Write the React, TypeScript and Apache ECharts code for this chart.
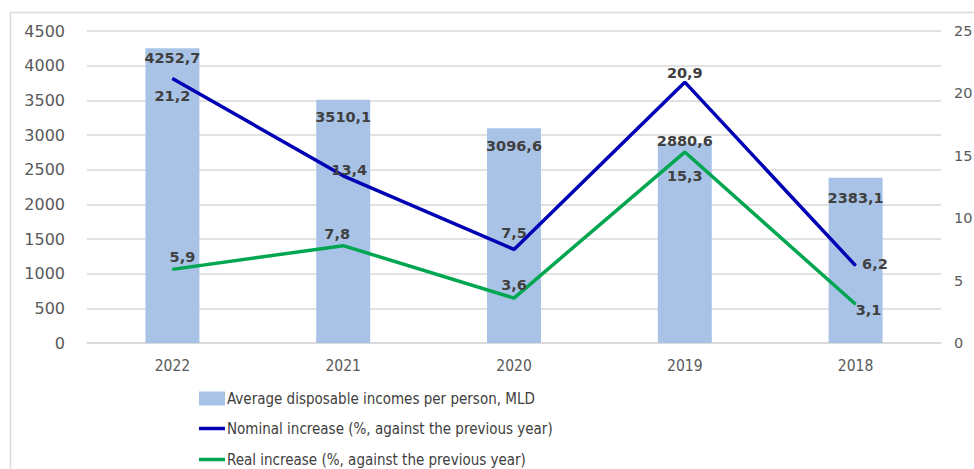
import React, { useEffect, useRef } from "react";
import * as echarts from "echarts";

const years = ["2022", "2021", "2020", "2019", "2018"];
const incomes = [4252.7, 3510.1, 3096.6, 2880.6, 2383.1];
const nominal = [21.2, 13.4, 7.5, 20.9, 6.2];
const real = [5.9, 7.8, 3.6, 15.3, 3.1];

const barName = "Average disposable incomes per person, MLD";
const nominalName = "Nominal increase (%, against the previous year)";
const realName = "Real increase (%, against the previous year)";

const fmt = (v: number) => v.toFixed(1).replace(".", ",");

const narrowFont = "DejaVu Sans Condensed, Liberation Sans Narrow, Liberation Sans";

const labelFont = {
  fontFamily: "DejaVu Sans",
  fontWeight: "bold" as const,
  fontSize: 14.5,
  color: "#404040",
};

// label placement styles (not data)
const barLabelStyle: any[] = [
  { position: "insideTop", distance: 2 },
  { position: "insideTop", distance: 10 },
  { position: "insideTop", distance: 10 },
  { position: "top", distance: -5 },
  { position: "insideTop", distance: 13 },
];
const nominalLabelStyle: any[] = [
  { position: "bottom", distance: 10 },
  { position: "top", distance: 2, offset: [6, 4] },
  { position: "top", distance: 8 },
  { position: "top", distance: 1 },
  { position: "right", distance: 6, offset: [0, -2] },
];
const realLabelStyle: any[] = [
  { position: "top", distance: 4, offset: [10, 0] },
  { position: "top", distance: 4, offset: [-6, 0] },
  { position: "top", distance: 5 },
  { position: "bottom", distance: 16 },
  { position: "inside", offset: [13, 6] },
];

const lineIcon = "path://M0 0H26V3.5H0Z";

const legendBase = {
  orient: "vertical",
  left: 199,
  padding: 0,
  itemWidth: 26,
  itemHeight: 14,
  itemGap: 0,
  textStyle: {
    fontFamily: narrowFont,
    fontSize: 15,
    color: "#404040",
    padding: [0, 0, 0, -3],
  },
};

export default function App() {
  const ref = useRef<HTMLDivElement>(null);
  useEffect(() => {
    document.body.style.margin = "0";
    const chart = echarts.init(ref.current!, null, { renderer: "svg" });
    const option: any = {
      animation: false,
      backgroundColor: "#ffffff",
      graphic: [
        {
          type: "rect",
          shape: { x: 10.5, y: 12.5, width: 1000, height: 500 },
          style: { fill: "none", stroke: "#dcdcdc", lineWidth: 1.5 },
          silent: true,
          z: -1,
        },
      ],
      grid: {
        left: 87,
        right: 33,
        top: 31,
        bottom: 126,
        containLabel: false,
        outerBoundsMode: "none",
      },
      legend: [
        { ...legendBase, top: 391, data: [{ name: barName, icon: "rect" }] },
        { ...legendBase, top: 421, data: [{ name: nominalName, icon: lineIcon }] },
        { ...legendBase, top: 452, data: [{ name: realName, icon: lineIcon }] },
      ],
      xAxis: {
        type: "category",
        data: years,
        axisLine: { lineStyle: { color: "#d9d9d9", width: 1.5 } },
        axisTick: { show: false },
        axisLabel: {
          fontFamily: narrowFont,
          fontSize: 15.5,
          color: "#595959",
          margin: 15,
        },
      },
      yAxis: [
        {
          type: "value",
          min: 0,
          max: 4500,
          interval: 500,
          axisLine: { show: false },
          axisTick: { show: false },
          splitLine: { lineStyle: { color: "#d9d9d9", width: 1.5 } },
          axisLabel: {
            fontFamily: "DejaVu Sans",
            fontSize: 16,
            color: "#595959",
            margin: 22,
            formatter: (v: number) => String(v),
          },
        },
        {
          type: "value",
          min: 0,
          max: 25,
          interval: 5,
          axisLine: { show: false },
          axisTick: { show: false },
          splitLine: { show: false },
          axisLabel: {
            fontFamily: "DejaVu Sans",
            fontSize: 14.5,
            color: "#595959",
            margin: 13,
            formatter: (v: number) => String(v),
          },
        },
      ],
      series: [
        {
          name: barName,
          type: "bar",
          barWidth: 54,
          itemStyle: { color: "#a9c3e6" },
          data: incomes.map((v, i) => ({
            value: v,
            label: { show: true, ...barLabelStyle[i] },
          })),
          label: { ...labelFont, formatter: (p: any) => fmt(p.value) },
        },
        {
          name: nominalName,
          type: "line",
          yAxisIndex: 1,
          symbol: "circle",
          symbolSize: 1,
          lineStyle: { color: "#0000b4", width: 3.5 },
          itemStyle: { color: "#0000b4" },
          data: nominal.map((v, i) => ({
            value: v,
            label: { show: true, ...nominalLabelStyle[i] },
          })),
          label: { ...labelFont, formatter: (p: any) => fmt(p.value) },
          z: 3,
        },
        {
          name: realName,
          type: "line",
          yAxisIndex: 1,
          symbol: "circle",
          symbolSize: 1,
          lineStyle: { color: "#00a650", width: 3.5 },
          itemStyle: { color: "#00a650" },
          data: real.map((v, i) => ({
            value: v,
            label: { show: true, ...realLabelStyle[i] },
          })),
          label: { ...labelFont, formatter: (p: any) => fmt(p.value) },
          z: 3,
        },
      ],
    };
    chart.setOption(option);
    return () => chart.dispose();
  }, []);
  return <div ref={ref} style={{ width: 974, height: 469 }} />;
}
